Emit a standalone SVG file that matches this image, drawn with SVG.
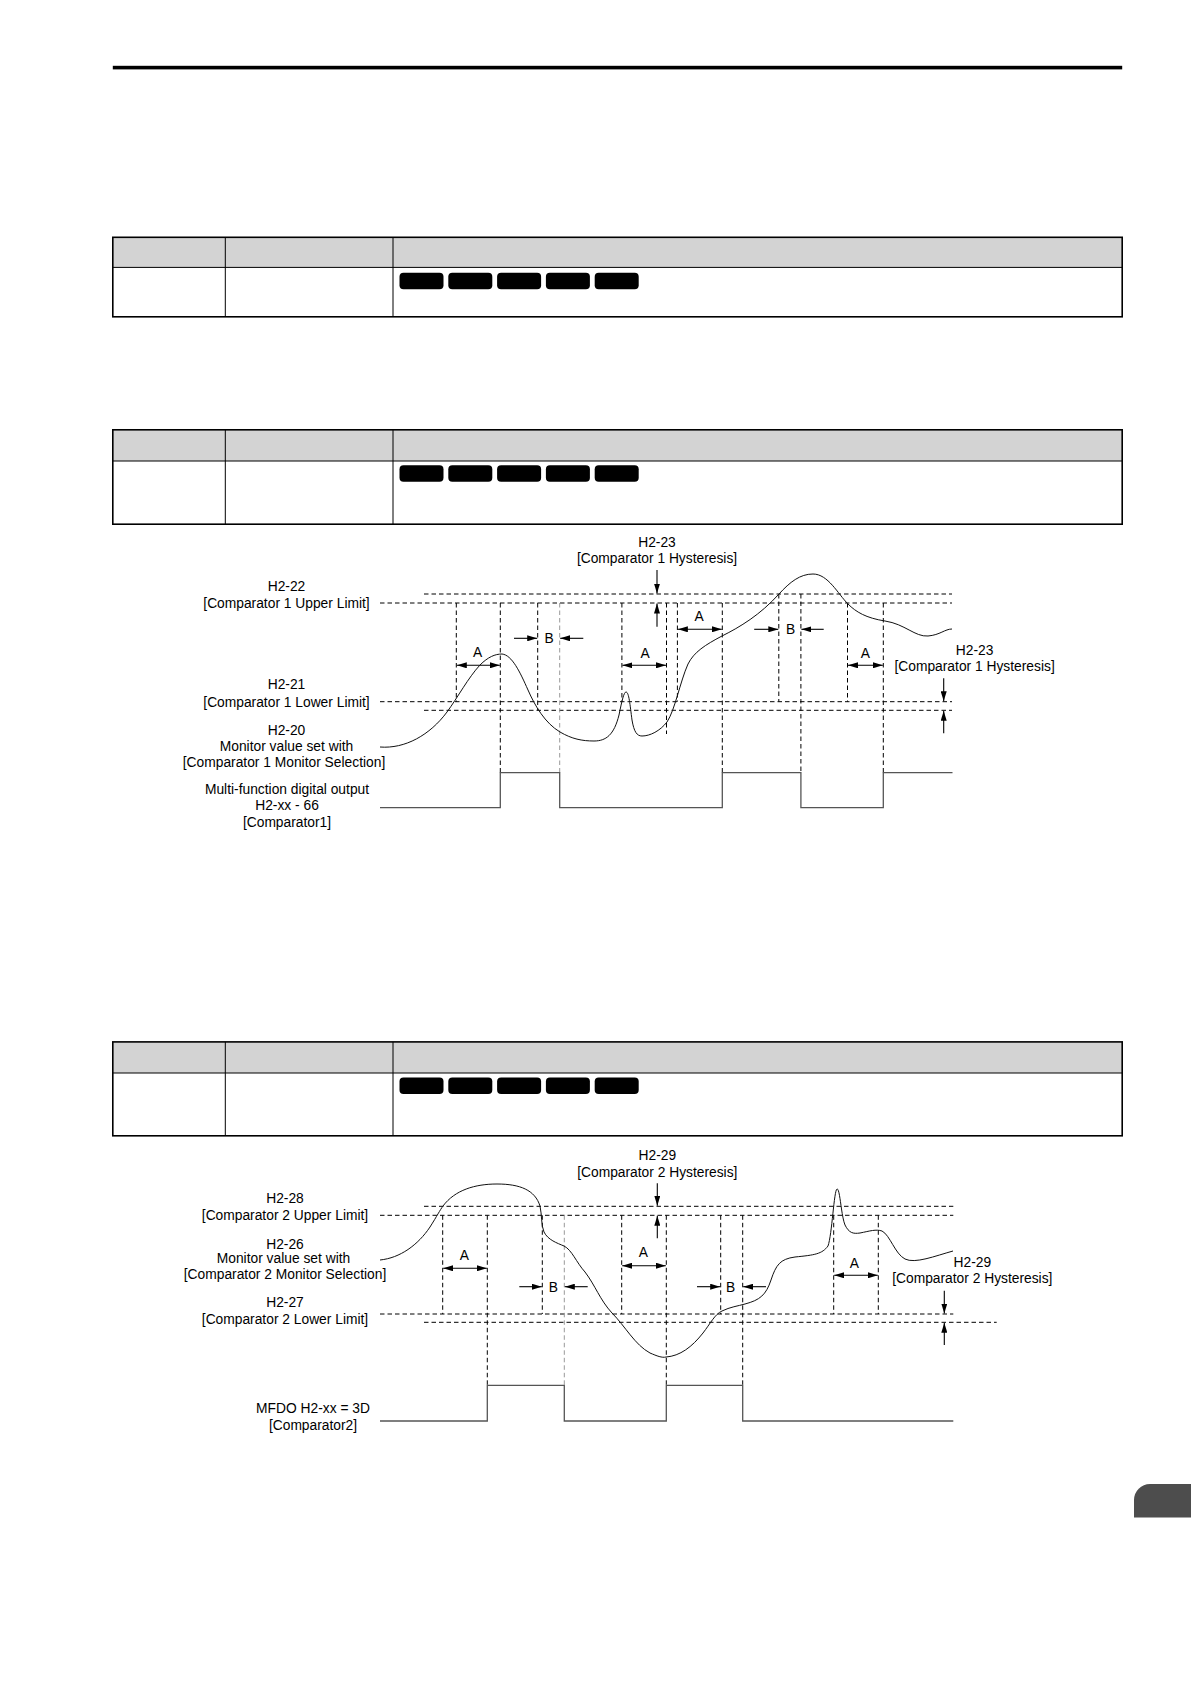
<svg xmlns="http://www.w3.org/2000/svg" width="1191" height="1684" viewBox="0 0 1191 1684">
<style>
.t{font-family:"Liberation Sans",Arial,sans-serif;font-size:13.8px;fill:#000;text-anchor:middle}
.d{stroke:#000;stroke-width:1;stroke-dasharray:4.5 3;fill:none}
.dg{stroke:#999;stroke-width:1;stroke-dasharray:4.5 3;fill:none}
.sig{stroke:#555;stroke-width:1.3;fill:none}
.cv{stroke:#111;stroke-width:1;fill:none}
.ar{stroke:#000;stroke-width:1.1;fill:none;marker-end:url(#ah)}
.ar2{stroke:#000;stroke-width:1.1;fill:none;marker-end:url(#ah);marker-start:url(#ahs)}
.hd{fill:#d3d3d3;stroke:none}
.ob{fill:none;stroke:#000;stroke-width:1.6}
.ib{stroke:#000;stroke-width:1}
.bd{fill:#000}
</style>
<defs>
<marker id="ah" viewBox="0 0 10 6" refX="10" refY="3" markerWidth="10" markerHeight="6" markerUnits="userSpaceOnUse" orient="auto"><path d="M0,0 L10,3 L0,6 z" fill="#000"/></marker>
<marker id="ahs" viewBox="0 0 10 6" refX="10" refY="3" markerWidth="10" markerHeight="6" markerUnits="userSpaceOnUse" orient="auto-start-reverse"><path d="M0,0 L10,3 L0,6 z" fill="#000"/></marker>
<g id="badges">
<rect class="bd" x="0" y="0" width="44" height="16.5" rx="4"/>
<rect class="bd" x="48.8" y="0" width="44" height="16.5" rx="4"/>
<rect class="bd" x="97.6" y="0" width="44" height="16.5" rx="4"/>
<rect class="bd" x="146.4" y="0" width="44" height="16.5" rx="4"/>
<rect class="bd" x="195.2" y="0" width="44" height="16.5" rx="4"/>
</g>
</defs>
<rect width="1191" height="1684" fill="#fff"/>
<rect id="topbar" x="112.8" y="65.8" width="1009.4" height="3.6" fill="#000"/>

<g id="table1">
<rect class="hd" x="112.8" y="237.3" width="1009.4" height="30.1"/>
<line class="ib" x1="112.8" y1="267.4" x2="1122.2" y2="267.4"/>
<line class="ib" x1="225.3" y1="237.3" x2="225.3" y2="316.8"/>
<line class="ib" x1="393" y1="237.3" x2="393" y2="316.8"/>
<rect class="ob" x="112.8" y="237.3" width="1009.4" height="79.5"/>
<use href="#badges" x="399.5" y="272.8"/>
</g>
<g id="table2">
<rect class="hd" x="112.8" y="429.8" width="1009.4" height="31.2"/>
<line class="ib" x1="112.8" y1="461" x2="1122.2" y2="461"/>
<line class="ib" x1="225.3" y1="429.8" x2="225.3" y2="524.2"/>
<line class="ib" x1="393" y1="429.8" x2="393" y2="524.2"/>
<rect class="ob" x="112.8" y="429.8" width="1009.4" height="94.4"/>
<use href="#badges" x="399.5" y="465.2"/>
</g>
<g id="table3">
<rect class="hd" x="112.8" y="1041.9" width="1009.4" height="31.1"/>
<line class="ib" x1="112.8" y1="1073" x2="1122.2" y2="1073"/>
<line class="ib" x1="225.3" y1="1041.9" x2="225.3" y2="1135.8"/>
<line class="ib" x1="393" y1="1041.9" x2="393" y2="1135.8"/>
<rect class="ob" x="112.8" y="1041.9" width="1009.4" height="93.9"/>
<use href="#badges" x="399.5" y="1077.6"/>
</g>

<!-- Figure 1 -->
<g id="fig1-labels">
<text class="t" x="657" y="547.3">H2-23</text>
<text class="t" x="657" y="563.3">[Comparator 1 Hysteresis]</text>
<text class="t" x="286.5" y="591">H2-22</text>
<text class="t" x="286.5" y="608">[Comparator 1 Upper Limit]</text>
<text class="t" x="286.5" y="689">H2-21</text>
<text class="t" x="286.5" y="706.5">[Comparator 1 Lower Limit]</text>
<text class="t" x="286.5" y="734.7">H2-20</text>
<text class="t" x="286.5" y="750.7">Monitor value set with</text>
<text class="t" x="284" y="766.7">[Comparator 1 Monitor Selection]</text>
<text class="t" x="287" y="794.3">Multi-function digital output</text>
<text class="t" x="287" y="810.3">H2-xx - 66</text>
<text class="t" x="287" y="826.7">[Comparator1]</text>
<text class="t" x="974.6" y="655">H2-23</text>
<text class="t" x="974.6" y="671.3">[Comparator 1 Hysteresis]</text>
<text class="t" x="477.7" y="657">A</text>
<text class="t" x="549" y="643">B</text>
<text class="t" x="645" y="658">A</text>
<text class="t" x="699" y="621">A</text>
<text class="t" x="790.7" y="634">B</text>
<text class="t" x="865.4" y="658">A</text>
</g>
<g id="fig1-connectors">
<line class="d" x1="424" y1="594" x2="952" y2="594"/>
<line class="d" x1="380" y1="603" x2="952" y2="603"/>
<line class="d" x1="380" y1="701.7" x2="952" y2="701.7"/>
<line class="d" x1="424" y1="710.3" x2="952" y2="710.3"/>
<line class="d" x1="456.3" y1="603" x2="456.3" y2="701.7"/>
<line class="d" x1="500.3" y1="603" x2="500.3" y2="772.7"/>
<line class="d" x1="537.7" y1="603" x2="537.7" y2="710.3"/>
<line class="dg" x1="559.7" y1="603" x2="559.7" y2="772.7"/>
<line class="d" x1="621.9" y1="603" x2="621.9" y2="701.7"/>
<line class="d" x1="666.5" y1="603" x2="666.5" y2="734"/>
<line class="d" x1="677.4" y1="603" x2="677.4" y2="701.7"/>
<line class="d" x1="722.3" y1="603" x2="722.3" y2="772.7"/>
<line class="d" x1="778.8" y1="594" x2="778.8" y2="701.7"/>
<line class="d" x1="800.9" y1="594" x2="800.9" y2="772.7"/>
<line class="d" x1="847.5" y1="603" x2="847.5" y2="701.7"/>
<line class="d" x1="883.3" y1="603" x2="883.3" y2="772.7"/>
<line class="ar2" x1="456.8" y1="665.3" x2="499.8" y2="665.3"/>
<line class="ar" x1="514" y1="638.3" x2="537.2" y2="638.3"/>
<line class="ar" x1="583.3" y1="638.3" x2="560.2" y2="638.3"/>
<line class="ar2" x1="622.4" y1="665.3" x2="666" y2="665.3"/>
<line class="ar2" x1="677.9" y1="629.3" x2="721.8" y2="629.3"/>
<line class="ar" x1="754.2" y1="629.3" x2="778.3" y2="629.3"/>
<line class="ar" x1="823.7" y1="629.3" x2="801.4" y2="629.3"/>
<line class="ar2" x1="848" y1="665.3" x2="882.8" y2="665.3"/>
<line class="ar" x1="657" y1="570" x2="657" y2="593.5"/>
<line class="ar" x1="657" y1="626.7" x2="657" y2="603.5"/>
<line class="ar" x1="943.7" y1="678.3" x2="943.7" y2="701.2"/>
<line class="ar" x1="943.7" y1="733.3" x2="943.7" y2="710.8"/>
<path class="cv" d="M380,747 C405,749 430,735 447,712 C458,697 468,678 480,665 C488,657 495,654 502,654 C512,655 520,672 528,690 C535,706 545,723 560,732 C572,739 582,741 594,741 C606,741 614,735 619,715 C622,700 624,692 626,692 C629,692 630,705 632,720 C634,732 637,736 642,736 C650,736 660,731 667,722 C675,710 680,682 688,664 C694,652 705,645 722,636 C740,627 760,615 779,594 C790,582 800,574 813,574 C828,574 838,594 848,604 C856,612 866,618 885,621 C905,624 915,637 928,636 C940,635 945,629 952,629"/>
<path class="sig" d="M380,807.7 H500.3 V772.7 H559.7 V807.7 H722.3 V772.7 H800.9 V807.7 H883.3 V772.7 H952.5"/>
</g>

<!-- Figure 2 -->
<g id="fig2-labels">
<text class="t" x="657.3" y="1160">H2-29</text>
<text class="t" x="657.3" y="1176.7">[Comparator 2 Hysteresis]</text>
<text class="t" x="285" y="1202.7">H2-28</text>
<text class="t" x="285" y="1220">[Comparator 2 Upper Limit]</text>
<text class="t" x="285" y="1249">H2-26</text>
<text class="t" x="283.5" y="1262.7">Monitor value set with</text>
<text class="t" x="285" y="1278.7">[Comparator 2 Monitor Selection]</text>
<text class="t" x="285" y="1306.7">H2-27</text>
<text class="t" x="285" y="1324">[Comparator 2 Lower Limit]</text>
<text class="t" x="313" y="1413.3">MFDO H2-xx = 3D</text>
<text class="t" x="313" y="1430">[Comparator2]</text>
<text class="t" x="972.3" y="1267.3">H2-29</text>
<text class="t" x="972.3" y="1283.3">[Comparator 2 Hysteresis]</text>
<text class="t" x="464.3" y="1260">A</text>
<text class="t" x="553.3" y="1291.7">B</text>
<text class="t" x="643.3" y="1257.3">A</text>
<text class="t" x="730.7" y="1291.7">B</text>
<text class="t" x="854.3" y="1268.3">A</text>
</g>
<g id="fig2-connectors">
<line class="d" x1="424" y1="1206.3" x2="953.3" y2="1206.3"/>
<line class="d" x1="380" y1="1215.3" x2="953.3" y2="1215.3"/>
<line class="d" x1="380" y1="1314" x2="953.3" y2="1314"/>
<line class="d" x1="424" y1="1322.3" x2="996.7" y2="1322.3"/>
<line class="d" x1="442.7" y1="1215.3" x2="442.7" y2="1314"/>
<line class="d" x1="487.3" y1="1215.3" x2="487.3" y2="1385.3"/>
<line class="d" x1="542.3" y1="1215.3" x2="542.3" y2="1314"/>
<line class="dg" x1="564.3" y1="1215.3" x2="564.3" y2="1385.3"/>
<line class="d" x1="621.7" y1="1215.3" x2="621.7" y2="1314"/>
<line class="d" x1="666.3" y1="1215.3" x2="666.3" y2="1385.3"/>
<line class="d" x1="720.7" y1="1215.3" x2="720.7" y2="1314"/>
<line class="d" x1="742.7" y1="1215.3" x2="742.7" y2="1385.3"/>
<line class="d" x1="833.7" y1="1215.3" x2="833.7" y2="1314"/>
<line class="d" x1="878.3" y1="1215.3" x2="878.3" y2="1314"/>
<line class="ar2" x1="443.2" y1="1268.3" x2="486.8" y2="1268.3"/>
<line class="ar" x1="519.3" y1="1286.7" x2="541.8" y2="1286.7"/>
<line class="ar" x1="587.7" y1="1286.7" x2="564.8" y2="1286.7"/>
<line class="ar2" x1="622.2" y1="1265.7" x2="665.8" y2="1265.7"/>
<line class="ar" x1="697" y1="1286.7" x2="720.2" y2="1286.7"/>
<line class="ar" x1="766" y1="1286.7" x2="743.2" y2="1286.7"/>
<line class="ar2" x1="834.2" y1="1275.3" x2="877.8" y2="1275.3"/>
<line class="ar" x1="657.3" y1="1183.3" x2="657.3" y2="1205.8"/>
<line class="ar" x1="657.3" y1="1238.3" x2="657.3" y2="1215.8"/>
<line class="ar" x1="944.3" y1="1290.7" x2="944.3" y2="1313.5"/>
<line class="ar" x1="944.3" y1="1345" x2="944.3" y2="1322.8"/>
<path class="cv" d="M380,1260 C400,1258 418,1245 430,1227 C437,1216 440,1210 443,1206 C455,1190 475,1184 497,1184 C520,1184 535,1190 540,1206 C542,1215 541,1225 544,1232 C548,1240 557,1243 564,1246 C572,1250 576,1262 585,1272 C595,1285 600,1300 612,1313 C625,1326 635,1345 650,1353 C657,1356 662,1358 666,1357 C680,1356 692,1347 703,1333 C710,1324 715,1314 722,1311 C730,1307 738,1306 745,1304 C760,1300 766,1295 771,1280 C776,1265 780,1259 795,1257 C815,1255 822,1254 828,1246 C832,1235 834,1190 837,1189 C840,1188 841,1215 845,1225 C849,1233 853,1234 860,1233 C870,1231 876,1229 882,1231 C890,1235 895,1254 905,1259 C915,1264 935,1256 953,1251"/>
<path class="sig" d="M380,1421 H487.3 V1385.3 H564.3 V1421 H666.3 V1385.3 H742.7 V1421 H953.3"/>
</g>

<path id="page-tab" d="M1134,1517.5 V1500 A16,16 0 0 1 1150,1484 H1191 V1517.5 Z" fill="#4d4d4d"/>
</svg>
